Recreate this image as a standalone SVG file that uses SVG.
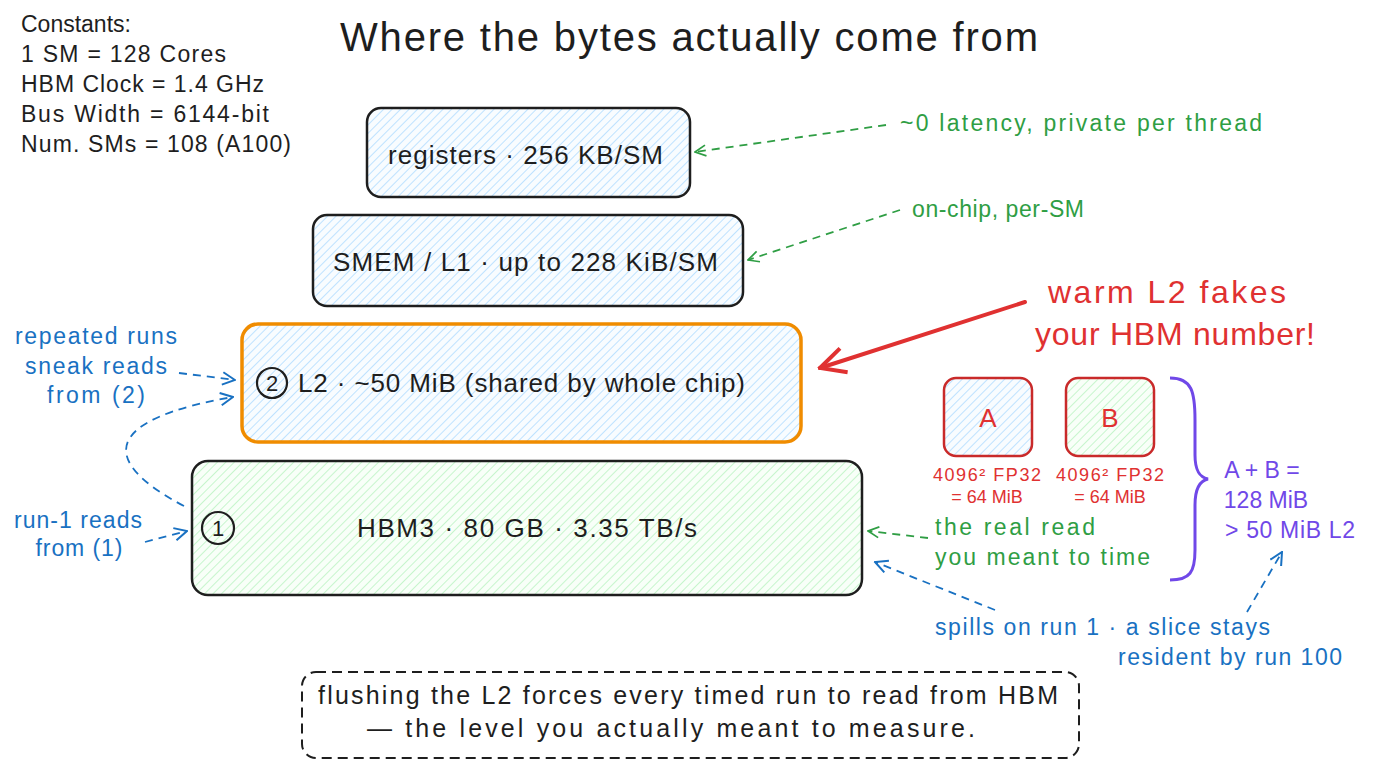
<svg xmlns="http://www.w3.org/2000/svg" width="1376" height="768" viewBox="0 0 1376 768">
<style>
text{font-family:"Liberation Sans",Arial,sans-serif;}
.blk{fill:#1e1e1e;}
.box{stroke:#1e1e1e;stroke-width:2.5;}
.lbl{font-size:26px;fill:#1e1e1e;}
.grn{fill:#2f9e44;font-size:23px;}
.blu{fill:#1971c2;font-size:23px;}
.red{fill:#e03131;}
.pur{fill:#7048e8;font-size:23px;}
.dash{fill:none;stroke-width:1.8;stroke-dasharray:8 6;}
</style>
<defs>
<pattern id="hb" width="6" height="6" patternUnits="userSpaceOnUse" patternTransform="rotate(45)">
<rect width="6" height="6" fill="#f8fcff"/>
<line x1="0" y1="0" x2="0" y2="6" stroke="#a5d8ff" stroke-width="1.4"/>
</pattern>
<pattern id="hg" width="6" height="6" patternUnits="userSpaceOnUse" patternTransform="rotate(45)">
<rect width="6" height="6" fill="#f8fff8"/>
<line x1="0" y1="0" x2="0" y2="6" stroke="#b2f2bb" stroke-width="1.4"/>
</pattern>
<marker id="mg" viewBox="0 0 12 12" refX="11" refY="6" markerWidth="13" markerHeight="13" markerUnits="userSpaceOnUse" orient="auto"><path d="M1,1 L11,6 L1,11" fill="none" stroke="#2f9e44" stroke-width="1.6"/></marker>
<marker id="mb" viewBox="0 0 12 12" refX="11" refY="6" markerWidth="15" markerHeight="15" markerUnits="userSpaceOnUse" orient="auto"><path d="M1,1 L11,6 L1,11" fill="none" stroke="#1971c2" stroke-width="1.6"/></marker>
<marker id="mr" viewBox="0 0 12 12" refX="11" refY="6" markerWidth="30" markerHeight="30" markerUnits="userSpaceOnUse" orient="auto"><path d="M1,1 L11,6 L1,11" fill="none" stroke="#e03131" stroke-width="1.6"/></marker>
</defs>
<rect width="1376" height="768" fill="#ffffff"/>

<g id="title"><text x="689" y="51" text-anchor="middle" font-size="40" class="blk" textLength="698">Where the bytes actually come from</text></g>

<g id="constants">
<text x="21" y="32" class="blk" font-size="23">Constants:</text>
<text x="21" y="62" class="blk" font-size="23" textLength="205">1 SM = 128 Cores</text>
<text x="21" y="92" class="blk" font-size="23" textLength="243">HBM Clock = 1.4 GHz</text>
<text x="21" y="122" class="blk" font-size="23" textLength="248">Bus Width = 6144-bit</text>
<text x="21" y="152" class="blk" font-size="23" textLength="270">Num. SMs = 108 (A100)</text>
</g>

<g id="registers">
<rect x="367" y="108" width="323" height="89" rx="14" fill="url(#hb)" class="box"/>
<text x="388" y="164" class="lbl" textLength="275">registers · 256 KB/SM</text>
</g>

<g id="smem">
<rect x="313" y="215" width="430" height="91" rx="14" fill="url(#hb)" class="box"/>
<text x="333" y="271" class="lbl" textLength="385">SMEM / L1 · up to 228 KiB/SM</text>
</g>

<g id="l2">
<rect x="242" y="324" width="559" height="118" rx="16" fill="url(#hb)" stroke="#f08c00" stroke-width="3.5"/>
<circle cx="272" cy="383" r="15" fill="none" stroke="#1e1e1e" stroke-width="2.2"/>
<text x="272" y="391" text-anchor="middle" font-size="22" class="blk">2</text>
<text x="298" y="392" class="lbl" textLength="447">L2 · ~50 MiB (shared by whole chip)</text>
</g>

<g id="hbm">
<rect x="192" y="461" width="670" height="134" rx="16" fill="url(#hg)" class="box"/>
<circle cx="218" cy="528" r="16" fill="none" stroke="#1e1e1e" stroke-width="2.2"/>
<text x="218" y="536" text-anchor="middle" font-size="22" class="blk">1</text>
<text x="357" y="537" class="lbl" textLength="340">HBM3 · 80 GB · 3.35 TB/s</text>
</g>

<g id="matA">
<rect x="944" y="378" width="88" height="78" rx="12" fill="url(#hb)" stroke="#c92a2a" stroke-width="2.5"/>
<text x="988" y="427" text-anchor="middle" font-size="26" class="red">A</text>
<text x="987" y="481" text-anchor="middle" font-size="18" class="red" textLength="108">4096² FP32</text>
<text x="987" y="503" text-anchor="middle" font-size="18" class="red">= 64 MiB</text>
</g>

<g id="matB">
<rect x="1066" y="378" width="88" height="78" rx="12" fill="url(#hg)" stroke="#c92a2a" stroke-width="2.5"/>
<text x="1110" y="427" text-anchor="middle" font-size="26" class="red">B</text>
<text x="1110" y="481" text-anchor="middle" font-size="18" class="red" textLength="108">4096² FP32</text>
<text x="1110" y="503" text-anchor="middle" font-size="18" class="red">= 64 MiB</text>
</g>

<g id="note-registers"><text x="900" y="131" class="grn" textLength="362">~0 latency, private per thread</text></g>
<g id="note-smem"><text x="912" y="217" class="grn" textLength="172">on-chip, per-SM</text></g>
<g id="note-warm">
<text x="1167" y="303" text-anchor="middle" font-size="32" class="red" textLength="238">warm L2 fakes</text>
<text x="1175" y="345" text-anchor="middle" font-size="32" class="red" textLength="280">your HBM number!</text>
</g>
<g id="note-real">
<text x="935" y="535" class="grn" textLength="160">the real read</text>
<text x="935" y="565" class="grn" textLength="215">you meant to time</text>
</g>
<g id="note-sum">
<path d="M1170,378 C1192,378 1195,392 1195,420 L1195,455 C1195,470 1199,477 1208,479 C1199,481 1195,490 1195,505 L1195,550 C1195,572 1190,580 1170,580" fill="none" stroke="#7048e8" stroke-width="3"/>
<text x="1262" y="478" text-anchor="middle" class="pur">A + B =</text>
<text x="1266" y="508" text-anchor="middle" class="pur">128 MiB</text>
<text x="1290" y="538" text-anchor="middle" class="pur" textLength="130">&gt; 50 MiB L2</text>
</g>
<g id="note-spill">
<text x="935" y="635" class="blu" textLength="335">spills on run 1 · a slice stays</text>
<text x="1118" y="665" class="blu" textLength="224">resident by run 100</text>
</g>
<g id="note-repeated">
<text x="96" y="344" text-anchor="middle" class="blu" textLength="162">repeated runs</text>
<text x="96" y="374" text-anchor="middle" class="blu" textLength="142">sneak reads</text>
<text x="96" y="403" text-anchor="middle" class="blu" textLength="98">from (2)</text>
</g>
<g id="note-run1">
<text x="78" y="528" text-anchor="middle" class="blu" textLength="128">run-1 reads</text>
<text x="79" y="556" text-anchor="middle" class="blu" textLength="87">from (1)</text>
</g>

<g id="takeaway">
<rect x="302" y="672" width="777" height="86" rx="14" fill="none" stroke="#1e1e1e" stroke-width="2" stroke-dasharray="10 6"/>
<text x="688" y="704" text-anchor="middle" font-size="25" class="blk" textLength="740">flushing the L2 forces every timed run to read from HBM</text>
<text x="671" y="737" text-anchor="middle" font-size="25" class="blk" textLength="608">— the level you actually meant to measure.</text>
</g>

<g id="connectors">
<path d="M886,125 L695,152" class="dash" stroke="#2f9e44" marker-end="url(#mg)"/>
<path d="M900,210 L748,260" class="dash" stroke="#2f9e44" marker-end="url(#mg)"/>
<path d="M1025,302 L820,368" fill="none" stroke="#e03131" stroke-width="4" stroke-linecap="round" marker-end="url(#mr)"/>
<path d="M928,538 L868,531" class="dash" stroke="#2f9e44" marker-end="url(#mg)"/>
<path d="M995,610 L875,562" class="dash" stroke="#1971c2" marker-end="url(#mb)"/>
<path d="M1247,612 L1282,552" class="dash" stroke="#1971c2" marker-end="url(#mb)"/>
<path d="M179,373 L235,380" class="dash" stroke="#1971c2" marker-end="url(#mb)"/>
<path d="M184,506 C100,462 100,420 233,397" class="dash" stroke="#1971c2" marker-end="url(#mb)"/>
<path d="M145,542 L187,531" class="dash" stroke="#1971c2" marker-end="url(#mb)"/>
</g>
</svg>
